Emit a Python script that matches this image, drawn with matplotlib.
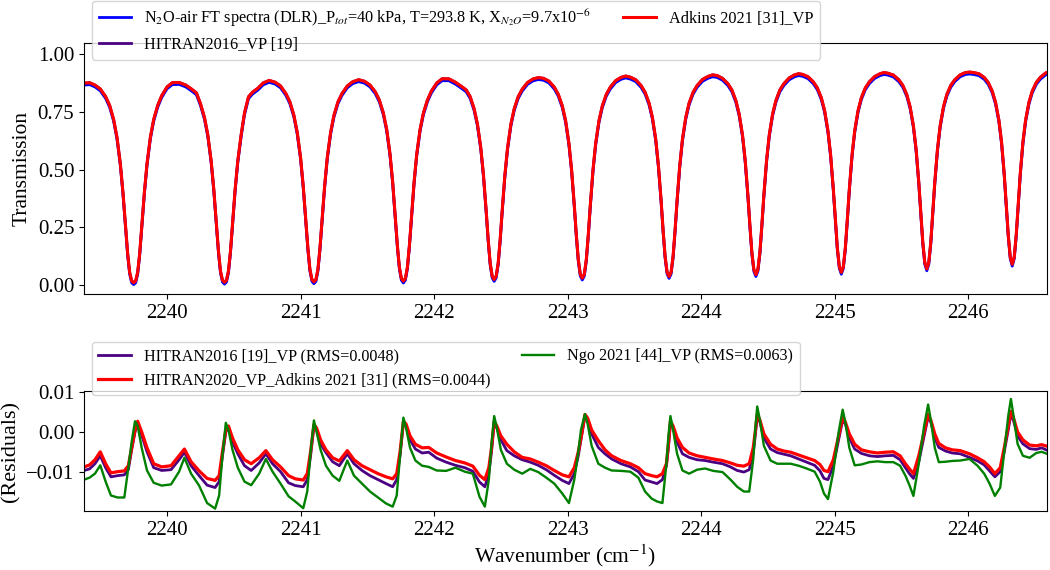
import matplotlib
matplotlib.use("Agg")
import matplotlib.pyplot as plt
import matplotlib.transforms as mtransforms
import numpy as np

plt.rcParams['font.family'] = ['Liberation Serif', 'DejaVu Serif']
plt.rcParams['mathtext.fontset'] = 'stix'

# transmission spectrum, one row per absorption line
wn_top = [
    2239.38, 2239.42,
    2239.46, 2239.50, 2239.54, 2239.57, 2239.60, 2239.625, 2239.65, 2239.67, 2239.69, 2239.705, 2239.72, 2239.735, 2239.75,
    2239.765, 2239.78, 2239.795, 2239.81, 2239.83, 2239.85, 2239.875, 2239.90, 2239.93, 2239.96, 2240.00, 2240.04,
    2240.09,
    2240.14, 2240.18, 2240.22, 2240.25, 2240.28, 2240.305, 2240.33, 2240.35, 2240.37, 2240.385, 2240.40, 2240.415, 2240.43,
    2240.445, 2240.46, 2240.475, 2240.49, 2240.51, 2240.53, 2240.555, 2240.58, 2240.61, 2240.64, 2240.68, 2240.72,
    2240.765,
    2240.81, 2240.85, 2240.89, 2240.92, 2240.95, 2240.975, 2241.00, 2241.02, 2241.04, 2241.055, 2241.07, 2241.085, 2241.10,
    2241.115, 2241.13, 2241.145, 2241.16, 2241.18, 2241.20, 2241.225, 2241.25, 2241.28, 2241.31, 2241.35, 2241.39,
    2241.435,
    2241.48, 2241.52, 2241.56, 2241.59, 2241.62, 2241.645, 2241.67, 2241.69, 2241.71, 2241.725, 2241.74, 2241.755, 2241.77,
    2241.785, 2241.80, 2241.815, 2241.83, 2241.85, 2241.87, 2241.895, 2241.92, 2241.95, 2241.98, 2242.02, 2242.06,
    2242.11,
    2242.16, 2242.20, 2242.24, 2242.27, 2242.30, 2242.325, 2242.35, 2242.37, 2242.39, 2242.405, 2242.42, 2242.435, 2242.45,
    2242.465, 2242.48, 2242.495, 2242.51, 2242.53, 2242.55, 2242.575, 2242.60, 2242.63, 2242.66, 2242.70, 2242.74,
    2242.78,
    2242.82, 2242.86, 2242.90, 2242.93, 2242.96, 2242.985, 2243.01, 2243.03, 2243.05, 2243.065, 2243.08, 2243.095, 2243.11,
    2243.125, 2243.14, 2243.155, 2243.17, 2243.19, 2243.21, 2243.235, 2243.26, 2243.29, 2243.32, 2243.36, 2243.40,
    2243.435,
    2243.47, 2243.51, 2243.55, 2243.58, 2243.61, 2243.635, 2243.66, 2243.68, 2243.70, 2243.715, 2243.73, 2243.745, 2243.76,
    2243.775, 2243.79, 2243.805, 2243.82, 2243.84, 2243.86, 2243.885, 2243.91, 2243.94, 2243.97, 2244.01, 2244.05,
    2244.085,
    2244.12, 2244.16, 2244.20, 2244.23, 2244.26, 2244.285, 2244.31, 2244.33, 2244.35, 2244.365, 2244.38, 2244.395, 2244.41,
    2244.425, 2244.44, 2244.455, 2244.47, 2244.49, 2244.51, 2244.535, 2244.56, 2244.59, 2244.62, 2244.66, 2244.70,
    2244.73,
    2244.76, 2244.80, 2244.84, 2244.87, 2244.90, 2244.925, 2244.95, 2244.97, 2244.99, 2245.005, 2245.02, 2245.035, 2245.05,
    2245.065, 2245.08, 2245.095, 2245.11, 2245.13, 2245.15, 2245.175, 2245.20, 2245.23, 2245.26, 2245.30, 2245.34,
    2245.37,
    2245.40, 2245.44, 2245.48, 2245.51, 2245.54, 2245.565, 2245.59, 2245.61, 2245.63, 2245.645, 2245.66, 2245.675, 2245.69,
    2245.705, 2245.72, 2245.735, 2245.75, 2245.77, 2245.79, 2245.815, 2245.84, 2245.87, 2245.90, 2245.94, 2245.98,
    2246.01,
    2246.04, 2246.08, 2246.12, 2246.15, 2246.18, 2246.205, 2246.23, 2246.25, 2246.27, 2246.285, 2246.30, 2246.315, 2246.33,
    2246.345, 2246.36, 2246.375, 2246.39, 2246.41, 2246.43, 2246.455, 2246.48, 2246.51, 2246.54, 2246.58, 2246.62,
]
trans = [
    0.874, 0.876,
    0.866, 0.849, 0.816, 0.778, 0.717, 0.640, 0.526, 0.400, 0.248, 0.136, 0.055, 0.018, 0.010,
    0.018, 0.055, 0.136, 0.248, 0.400, 0.526, 0.640, 0.717, 0.778, 0.820, 0.858, 0.876,
    0.877,
    0.866, 0.850, 0.832, 0.786, 0.726, 0.651, 0.539, 0.415, 0.262, 0.147, 0.061, 0.021, 0.012,
    0.021, 0.061, 0.147, 0.262, 0.415, 0.539, 0.651, 0.745, 0.815, 0.835, 0.852, 0.875,
    0.886,
    0.878, 0.862, 0.829, 0.793, 0.735, 0.661, 0.552, 0.428, 0.275, 0.158, 0.068, 0.024, 0.014,
    0.024, 0.068, 0.158, 0.275, 0.428, 0.552, 0.661, 0.735, 0.793, 0.829, 0.862, 0.880,
    0.889,
    0.882, 0.866, 0.836, 0.801, 0.745, 0.674, 0.567, 0.445, 0.291, 0.171, 0.077, 0.029, 0.017,
    0.029, 0.077, 0.171, 0.291, 0.445, 0.567, 0.674, 0.745, 0.801, 0.840, 0.875, 0.893,
    0.893,
    0.878, 0.862, 0.845, 0.816, 0.763, 0.696, 0.593, 0.475, 0.322, 0.198, 0.095, 0.039, 0.024,
    0.039, 0.095, 0.198, 0.322, 0.475, 0.593, 0.696, 0.763, 0.816, 0.848, 0.877, 0.892,
    0.898,
    0.895, 0.883, 0.857, 0.826, 0.776, 0.712, 0.613, 0.498, 0.346, 0.219, 0.110, 0.047, 0.030,
    0.047, 0.110, 0.219, 0.346, 0.498, 0.613, 0.712, 0.776, 0.826, 0.857, 0.885, 0.899,
    0.905,
    0.900, 0.889, 0.864, 0.835, 0.788, 0.726, 0.631, 0.518, 0.368, 0.239, 0.125, 0.056, 0.037,
    0.056, 0.125, 0.239, 0.368, 0.518, 0.631, 0.726, 0.788, 0.835, 0.864, 0.890, 0.903,
    0.910,
    0.907, 0.895, 0.872, 0.845, 0.799, 0.740, 0.649, 0.540, 0.391, 0.261, 0.141, 0.067, 0.045,
    0.067, 0.141, 0.261, 0.391, 0.540, 0.649, 0.740, 0.799, 0.845, 0.872, 0.897, 0.910,
    0.915,
    0.912, 0.902, 0.880, 0.854, 0.811, 0.755, 0.667, 0.562, 0.416, 0.285, 0.161, 0.080, 0.055,
    0.080, 0.161, 0.285, 0.416, 0.562, 0.667, 0.755, 0.811, 0.854, 0.880, 0.903, 0.915,
    0.920,
    0.917, 0.909, 0.889, 0.865, 0.825, 0.772, 0.689, 0.588, 0.446, 0.315, 0.186, 0.098, 0.070,
    0.098, 0.186, 0.315, 0.446, 0.588, 0.689, 0.772, 0.825, 0.865, 0.889, 0.910, 0.920,
    0.922,
    0.920, 0.915, 0.899, 0.877, 0.840, 0.791, 0.714, 0.619, 0.481, 0.351, 0.218, 0.122, 0.090,
    0.122, 0.218, 0.351, 0.481, 0.619, 0.714, 0.791, 0.840, 0.877, 0.899, 0.918, 0.927,
]

# residuals, in units of 1e-3
wn_res = [
    2239.38, 2239.42, 2239.46, 2239.50, 2239.54, 2239.58, 2239.63, 2239.68, 2239.71, 2239.735,
    2239.76, 2239.78, 2239.81, 2239.85, 2239.90, 2239.96, 2240.03, 2240.09, 2240.13, 2240.18, 2240.24, 2240.30, 2240.36, 2240.39, 2240.415,
    2240.44, 2240.46, 2240.49, 2240.53, 2240.58, 2240.63, 2240.69, 2240.74, 2240.79, 2240.85, 2240.91, 2240.96, 2241.02, 2241.05, 2241.075,
    2241.10, 2241.12, 2241.15, 2241.19, 2241.24, 2241.29, 2241.35, 2241.40, 2241.46, 2241.52, 2241.58, 2241.64, 2241.69, 2241.72, 2241.745,
    2241.77, 2241.79, 2241.82, 2241.86, 2241.91, 2241.96, 2242.02, 2242.09, 2242.16, 2242.23, 2242.29, 2242.34, 2242.38, 2242.41, 2242.43,
    2242.45, 2242.47, 2242.50, 2242.545, 2242.60, 2242.66, 2242.72, 2242.78, 2242.84, 2242.90, 2242.96, 2243.01, 2243.05, 2243.08, 2243.10,
    2243.13, 2243.15, 2243.18, 2243.23, 2243.28, 2243.33, 2243.40, 2243.47, 2243.53, 2243.58, 2243.63, 2243.67, 2243.71, 2243.74, 2243.755,
    2243.77, 2243.79, 2243.82, 2243.86, 2243.91, 2243.97, 2244.03, 2244.09, 2244.16, 2244.22, 2244.27, 2244.32, 2244.36, 2244.39, 2244.405,
    2244.42, 2244.44, 2244.47, 2244.52, 2244.57, 2244.62, 2244.67, 2244.73, 2244.79, 2244.85, 2244.89, 2244.92, 2244.95, 2244.99, 2245.03,
    2245.06, 2245.08, 2245.11, 2245.15, 2245.20, 2245.26, 2245.32, 2245.38, 2245.44, 2245.49, 2245.53, 2245.56, 2245.59, 2245.63, 2245.67,
    2245.70, 2245.72, 2245.75, 2245.78, 2245.83, 2245.88, 2245.94, 2246.01, 2246.07, 2246.12, 2246.16, 2246.20, 2246.24, 2246.27, 2246.30,
    2246.32, 2246.34, 2246.37, 2246.41, 2246.46, 2246.51, 2246.55, 2246.59,
]
res_h20 = [  # HITRAN2020_VP_Adkins (red)
    -8.8, -8.3, -7.0, -5.0, -8.0, -10.3, -10.0, -9.8, -8.5, -4.0,
    0.5, 2.7, 0.0, -4.0, -8.0, -8.8, -8.5, -6.0, -4.3, -7.5, -9.8, -11.7, -12.2, -11.0, -5.0,
    0.5, 1.5, -1.5, -4.5, -7.0, -8.0, -6.5, -4.7, -7.0, -8.8, -11.0, -11.8, -12.1, -10.5, -5.0,
    1.9, 1.0, -2.0, -4.5, -6.5, -7.3, -4.7, -7.0, -8.5, -9.5, -10.5, -11.3, -11.8, -10.5, -5.0,
    2.7, 2.0, -1.0, -3.1, -4.0, -3.9, -5.3, -6.3, -7.2, -7.8, -8.6, -10.9, -12.0, -9.0, -4.0,
    2.7, 1.5, -1.0, -3.1, -5.0, -6.4, -6.8, -7.6, -8.5, -9.7, -10.8, -11.3, -9.0, -5.0, -1.5,
    4.4, 3.5, 0.5, -2.2, -4.5, -6.0, -7.2, -8.0, -9.0, -10.5, -11.0, -11.3, -10.5, -8.0, -3.0,
    2.7, 1.5, -1.5, -3.9, -5.3, -6.0, -6.4, -6.8, -7.2, -7.8, -8.4, -8.6, -8.0, -4.0, 0.0,
    4.4, 3.0, -0.5, -3.1, -4.3, -4.8, -5.1, -5.8, -6.5, -7.2, -8.2, -9.7, -10.0, -7.0, -1.0,
    3.6, 2.5, -0.5, -3.1, -4.5, -5.0, -5.3, -5.1, -5.0, -6.0, -8.0, -9.3, -10.5, -6.0, 0.0,
    4.4, 3.0, -0.5, -2.9, -4.0, -4.5, -4.7, -5.5, -6.5, -7.5, -8.8, -10.5, -9.0, -4.0, 1.5,
    5.2, 3.5, 0.0, -2.0, -3.3, -3.5, -3.2, -3.6,
]
res_h16 = [  # HITRAN2016 (indigo)
    -9.7, -9.3, -8.0, -6.0, -9.0, -11.3, -11.0, -10.8, -9.5, -4.5,
    0.0, 2.3, -0.8, -5.0, -9.0, -9.7, -9.5, -7.0, -5.1, -8.5, -11.0, -13.4, -14.0, -12.5, -6.0,
    0.0, 1.0, -2.5, -5.5, -8.5, -9.7, -7.8, -5.5, -8.0, -10.0, -12.8, -13.5, -13.8, -12.0, -6.0,
    1.5, 0.5, -3.0, -5.2, -7.5, -8.5, -5.5, -8.0, -9.7, -11.0, -12.0, -13.0, -13.8, -12.0, -6.0,
    2.2, 1.5, -2.0, -4.3, -5.3, -5.1, -6.6, -7.6, -8.4, -9.0, -9.9, -12.6, -13.8, -10.5, -5.0,
    2.2, 1.0, -2.0, -4.7, -6.0, -7.0, -7.6, -8.4, -9.5, -10.9, -12.2, -13.0, -10.5, -6.0, -2.0,
    4.0, 3.0, -0.5, -3.9, -5.5, -6.8, -8.0, -8.8, -10.0, -12.1, -12.6, -13.0, -12.0, -8.5, -4.0,
    2.2, 1.0, -2.5, -5.5, -6.4, -7.0, -7.2, -7.6, -8.0, -8.8, -9.7, -10.1, -9.5, -5.5, -1.0,
    3.8, 2.5, -1.5, -4.3, -5.2, -5.6, -6.0, -6.8, -7.6, -8.4, -9.8, -11.7, -12.0, -8.5, -2.0,
    3.0, 2.0, -1.5, -4.3, -5.4, -6.0, -6.2, -6.0, -5.9, -7.0, -9.0, -10.5, -11.7, -7.5, -1.0,
    3.8, 2.5, -1.5, -3.9, -4.8, -5.3, -5.5, -6.4, -7.3, -8.3, -9.8, -11.3, -10.0, -5.0, 0.5,
    4.5, 2.8, -1.0, -3.0, -4.2, -4.4, -4.0, -4.6,
]
res_ngo = [  # Ngo 2021 (green)
    -12.0, -11.5, -10.5, -8.4, -12.5, -16.0, -16.5, -16.5, -9.0, -2.5,
    2.7, 1.5, -4.0, -9.7, -12.8, -13.5, -13.2, -10.0, -6.5, -10.5, -13.5, -17.9, -19.3, -16.0, -6.0,
    2.3, 0.5, -4.5, -9.0, -12.5, -13.4, -10.5, -6.8, -10.0, -13.0, -16.2, -17.5, -19.2, -15.0, -5.0,
    2.9, 0.0, -4.5, -8.5, -11.0, -12.3, -7.2, -11.0, -13.0, -15.0, -16.5, -18.0, -18.8, -16.0, -6.0,
    3.6, 1.0, -4.0, -7.2, -8.5, -8.8, -9.7, -9.8, -9.0, -10.0, -10.5, -16.3, -18.8, -12.0, -3.0,
    4.0, 1.0, -4.5, -8.0, -9.5, -10.5, -9.3, -10.1, -11.5, -13.0, -15.5, -17.9, -12.0, -5.0, 0.5,
    4.5, 2.0, -3.5, -8.0, -9.0, -9.7, -9.8, -10.0, -11.5, -15.0, -16.8, -17.5, -17.9, -8.0, -1.0,
    4.0, 0.5, -5.5, -9.7, -10.5, -9.5, -9.2, -9.8, -10.1, -12.0, -13.8, -15.0, -15.0, -7.0, 0.5,
    6.4, 3.0, -3.5, -7.2, -8.0, -8.0, -8.0, -8.5, -9.2, -10.0, -12.5, -15.5, -16.9, -10.0, 0.0,
    5.6, 2.5, -4.0, -8.4, -8.2, -7.6, -7.4, -7.6, -7.6, -8.5, -11.0, -13.4, -16.1, -8.0, 1.5,
    6.9, 3.0, -4.0, -7.6, -7.5, -7.3, -7.2, -6.8, -8.5, -10.5, -13.0, -16.1, -14.0, -5.0, 4.0,
    8.3, 4.0, -3.0, -6.0, -6.5, -5.3, -5.0, -5.5,
]

lbl_meas = (r"N$_2$O-air FT spectra (DLR)_P$_{tot}$=40 kPa, T=293.8 K, "
            r"X$_{N_2O}$=9.7x10$^{-6}$")
lbl_h16_top = "HITRAN2016_VP [19]"
lbl_adk_top = "Adkins 2021 [31]_VP"
lbl_h16 = "HITRAN2016 [19]_VP (RMS=0.0048)"
lbl_h20 = "HITRAN2020_VP_Adkins 2021 [31] (RMS=0.0044)"
lbl_ngo = "Ngo 2021 [44]_VP (RMS=0.0063)"

c_blue = "#0000ff"
c_indigo = "#4b0082"
c_red = "#ff0000"
c_green = "#008000"

fig = plt.figure(figsize=(10.5, 5.7), dpi=100)
ax1 = fig.add_axes([0.080, 0.4842, 0.9171, 0.4404])
ax2 = fig.add_axes([0.080, 0.1035, 0.9171, 0.2105])

# measured spectrum sits just under the fitted line
shift = mtransforms.ScaledTranslation(0, -1.4 / 72, fig.dpi_scale_trans)
ax1.plot(wn_top, trans, color=c_blue, lw=2.0, label=lbl_meas,
         transform=ax1.transData + shift)
ax1.plot(wn_top, trans, color=c_indigo, lw=2.0, label=lbl_h16_top)
ax1.plot(wn_top, trans, color=c_red, lw=2.2, label=lbl_adk_top)
ax1.set_xlim(2239.378, 2246.59)
ax1.set_ylim(-0.039, 1.048)
ax1.set_yticks([0.0, 0.25, 0.5, 0.75, 1.0])
ax1.set_ylabel("Transmission", fontsize=15.5)
ax1.tick_params(labelsize=15)

r = 1e-3
ax2.plot(wn_res, np.array(res_h16) * r, color=c_indigo, lw=2.0, label=lbl_h16)
ax2.plot(wn_res, np.array(res_h20) * r, color=c_red, lw=2.3, label=lbl_h20)
ax2.plot(wn_res, np.array(res_ngo) * r, color=c_green, lw=1.7, label=lbl_ngo)
ax2.set_xlim(2239.378, 2246.59)
ax2.set_ylim(-0.0199, 0.0103)
ax2.set_yticks([-0.01, 0.0, 0.01])
ax2.set_ylabel("(Residuals)", fontsize=16)
ax2.set_xlabel(r"Wavenumber (cm$^{-1}$)", fontsize=15.5, labelpad=2)
ax2.tick_params(labelsize=15)

ax1.legend(loc="upper left", bbox_to_anchor=(92 / 1050, 1 - 1 / 570),
           bbox_transform=fig.transFigure, borderaxespad=0, ncol=2,
           fontsize=11.7)
ax2.legend(loc="upper left", bbox_to_anchor=(92 / 1050, 1 - 342 / 570),
           bbox_transform=fig.transFigure, borderaxespad=0, ncol=2,
           fontsize=11.6)

fig.savefig("out.png", dpi=100)
